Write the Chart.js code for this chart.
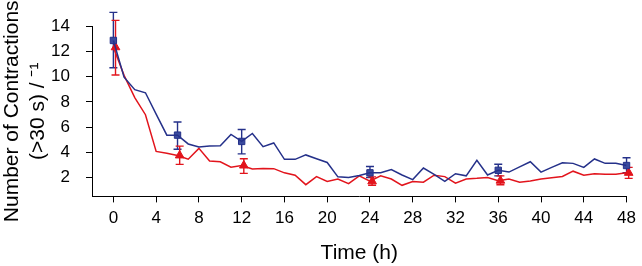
<!DOCTYPE html>
<html>
<head>
<meta charset="utf-8">
<script src="https://cdn.jsdelivr.net/npm/chart.js@4.4.1/dist/chart.umd.min.js"></script>
<style>
  html, body { margin: 0; padding: 0; background: #fff; }
  #wrap { width: 642px; height: 266px; }
</style>
</head>
<body>
<div id="wrap"><canvas id="contractions-chart"></canvas></div>
<script>
// hourly counts
const hours = [0, 1, 2, 3, 4, 5, 6, 7, 8, 9, 10, 11, 12, 13, 14, 15, 16, 17, 18, 19, 20, 21, 22, 23, 24,
    25, 26, 27, 28, 29, 30, 31, 32, 33, 34, 35, 36, 37, 38, 39, 40, 41, 42, 43, 44, 45, 46, 47, 48];
const blueCounts = [12.87, 9.96, 8.97, 8.72, 7.03, 5.36, 5.36, 4.66, 4.42, 4.5, 4.52, 5.42, 4.86, 5.49, 4.44,
    4.74, 3.44, 3.44, 3.79, 3.49, 3.19, 2.05, 2.0, 2.15, 2.37, 2.37, 2.63, 2.2, 1.83, 2.75, 2.25, 1.7, 2.3,
    2.13, 3.37, 2.2, 2.57, 2.43, 2.84, 3.25, 2.43, 2.8, 3.17, 3.12, 2.8, 3.47, 3.12, 3.12, 2.95];
const redCounts = [12.33, 10.1, 8.34, 6.98, 4.07, 3.92, 3.75, 3.45, 4.31, 3.3, 3.25, 2.82, 2.95, 2.67, 2.72,
    2.7, 2.37, 2.18, 1.43, 2.07, 1.68, 1.88, 1.51, 2.13, 1.7, 2.13, 1.88, 1.38, 1.68, 1.63, 2.18, 2.07, 1.55,
    1.88, 1.93, 2.0, 1.75, 1.88, 1.63, 1.72, 1.88, 1.98, 2.08, 2.5, 2.18, 2.3, 2.25, 2.25, 2.37];

// means with error bars
const blueMarkerHours = [0, 6, 12, 24, 36, 48];
const blueMeans = [12.87, 5.36, 4.86, 2.37, 2.57, 2.95];
const blueUpper = [15.1, 6.4, 5.81, 2.87, 3.05, 3.57];
const blueLower = [10.7, 4.24, 3.87, 2.0, 2.13, 2.37];
const redMarkerHours = [0.2, 6.2, 12.2, 24.2, 36.2, 48.2];
const redMeans = [12.33, 3.75, 2.95, 1.7, 1.75, 2.37];
const redUpper = [14.46, 4.49, 3.49, 2.05, 2.13, 2.8];
const redLower = [10.13, 3.04, 2.33, 1.38, 1.43, 1.93];

const xTickValues = [0, 4, 8, 12, 16, 20, 24, 28, 32, 36, 40, 44, 48];
const yTickValues = [2, 4, 6, 8, 10, 12, 14];

const blueColor = '#25318a';
const blueFill = '#3a4a9e';
const redColor = '#e2141c';
const fontFamily = "'Liberation Sans', Arial, Helvetica, sans-serif";

function toPoints(xs, ys) {
    return xs.map((x, i) => ({ x: x, y: ys[i] }));
}

// Chart.js has no error bars, so draw them from the scales
const errorBars = {
    id: 'errorBars',
    beforeDatasetsDraw(chart) {
        const ctx = chart.ctx;
        const xs = chart.scales.x;
        const ys = chart.scales.y;
        const groups = [
            { at: blueMarkerHours, hi: blueUpper, lo: blueLower, color: blueColor },
            { at: redMarkerHours, hi: redUpper, lo: redLower, color: redColor },
        ];
        ctx.save();
        ctx.lineWidth = 1.4;
        groups.forEach(g => {
            ctx.strokeStyle = g.color;
            g.at.forEach((h, i) => {
                const px = xs.getPixelForValue(h);
                const top = ys.getPixelForValue(g.hi[i]);
                const bottom = ys.getPixelForValue(g.lo[i]);
                ctx.beginPath();
                ctx.moveTo(px, top);
                ctx.lineTo(px, bottom);
                ctx.moveTo(px - 4, top);
                ctx.lineTo(px + 4, top);
                ctx.moveTo(px - 4, bottom);
                ctx.lineTo(px + 4, bottom);
                ctx.stroke();
            });
        });
        ctx.restore();
    }
};

const ctx = document.getElementById('contractions-chart').getContext('2d');
new Chart(ctx, {
    type: 'scatter',
    data: {
        datasets: [
            {
                data: toPoints(hours, blueCounts),
                showLine: true,
                borderColor: blueColor,
                borderWidth: 1.5,
                pointRadius: 0,
                tension: 0,
            },
            {
                data: toPoints(hours, redCounts),
                showLine: true,
                borderColor: redColor,
                borderWidth: 1.5,
                pointRadius: 0,
                tension: 0,
            },
            {
                data: toPoints(blueMarkerHours, blueMeans),
                pointStyle: 'rect',
                pointRadius: 4.5,
                backgroundColor: blueFill,
                borderColor: blueColor,
                borderWidth: 1,
                clip: false,
            },
            {
                data: toPoints(redMarkerHours, redMeans),
                pointStyle: 'triangle',
                pointRadius: 5,
                backgroundColor: redColor,
                borderColor: redColor,
                borderWidth: 1,
                clip: false,
            },
        ],
    },
    options: {
        responsive: true,
        maintainAspectRatio: false,
        animation: false,
        events: [],
        layout: {
            padding: { top: 10, right: 13, left: 0, bottom: 0 },
        },
        plugins: {
            legend: { display: false },
            tooltip: { enabled: false },
        },
        scales: {
            x: {
                type: 'linear',
                min: -2,
                max: 48,
                afterBuildTicks: scale => {
                    scale.ticks = xTickValues.map(v => ({ value: v }));
                },
                grid: {
                    drawOnChartArea: false,
                    drawTicks: true,
                    tickLength: 6,
                    tickWidth: 1,
                    tickColor: '#000',
                },
                border: { color: '#000', width: 1 },
                ticks: {
                    color: '#000',
                    padding: 6,
                    maxRotation: 0,
                    autoSkip: false,
                    font: { family: fontFamily, size: 17 },
                },
                title: {
                    display: true,
                    text: 'Time (h)',
                    color: '#000',
                    font: { family: fontFamily, size: 21, lineHeight: 1.2 },
                    padding: { top: 6, bottom: 0 },
                },
            },
            y: {
                min: 0.5,
                max: 14,
                afterBuildTicks: scale => {
                    scale.ticks = yTickValues.map(v => ({ value: v }));
                },
                afterFit: scale => {
                    scale.width = 92;
                },
                grid: {
                    drawOnChartArea: false,
                    drawTicks: true,
                    tickLength: 6,
                    tickWidth: 1,
                    tickColor: '#000',
                },
                border: { color: '#000', width: 1 },
                ticks: {
                    color: '#000',
                    padding: 16,
                    font: { family: fontFamily, size: 17 },
                },
                title: {
                    display: true,
                    text: ['Number of Contractions', '(>30 s) / \u207B\u00B9'],
                    color: '#000',
                    font: { family: fontFamily, size: 21, lineHeight: 1.2 },
                    padding: { top: 0, bottom: 0 },
                },
            },
        },
    },
    plugins: [errorBars],
});
</script>
</body>
</html>
